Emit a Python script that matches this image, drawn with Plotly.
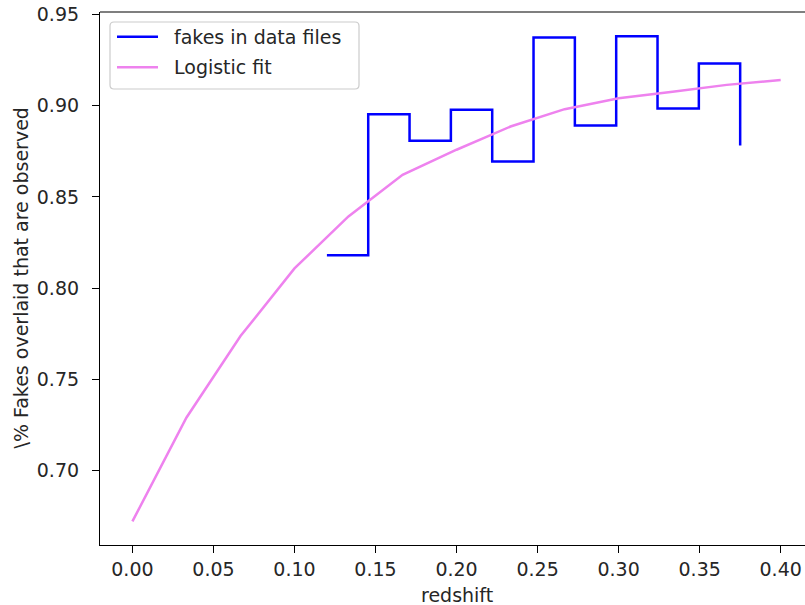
import plotly.graph_objects as go

# Binned fraction of injected fakes recovered in the data files (steps-post)
bin_z = [0.12, 0.1455, 0.171, 0.1965, 0.222, 0.2475, 0.273, 0.2985, 0.324, 0.3495, 0.375]
bin_frac = [0.818, 0.8952, 0.8807, 0.8977, 0.8694, 0.9373, 0.8891, 0.9379, 0.8984, 0.923, 0.8781]

# Logistic fit evaluated on a coarse redshift grid
fit_z = [0.0, 0.0333, 0.0667, 0.1, 0.1333, 0.1667, 0.2, 0.2333, 0.2667, 0.3, 0.3333, 0.3667, 0.4]
fit_frac = [0.6723, 0.7291, 0.7738, 0.8108, 0.8393, 0.8621, 0.8758, 0.8885, 0.8980, 0.9040, 0.9076, 0.9113, 0.9140]

x_ticks = [0.0, 0.05, 0.10, 0.15, 0.20, 0.25, 0.30, 0.35, 0.40]
y_ticks = [0.70, 0.75, 0.80, 0.85, 0.90, 0.95]

series_names = ["fakes in data files", "Logistic fit"]
series_colors = ["#0000ff", "#ee82ee"]

FONT = "DejaVu Sans"
FS = 19
TXT = "#262626"

W, H = 805, 605
ML, MR, MT, MB = 100, 0, 12, 60
PW, PH = W - ML - MR, H - MT - MB


def px(x):
    """page pixel x -> paper coordinate"""
    return (x - ML) / PW


def py(y):
    """page pixel y -> paper coordinate"""
    return (H - MB - y) / PH


fig = go.Figure()
fig.add_trace(go.Scatter(
    x=bin_z, y=bin_frac, mode="lines", line_shape="hv",
    line=dict(color=series_colors[0], width=2.5), name=series_names[0],
))
fig.add_trace(go.Scatter(
    x=fit_z, y=fit_frac, mode="lines",
    line=dict(color=series_colors[1], width=2.5), name=series_names[1],
))

axis_common = dict(
    showgrid=False, zeroline=False, showline=True, linecolor="black", linewidth=1.2,
    ticks="outside", ticklen=7, tickwidth=1.2, tickcolor="black",
    tickfont=dict(family=FONT, size=FS, color=TXT),
)

fig.update_layout(
    width=W, height=H,
    margin=dict(l=ML, r=MR, t=MT, b=MB),
    paper_bgcolor="white", plot_bgcolor="white",
    font=dict(family=FONT, size=FS, color=TXT),
    xaxis=dict(range=[-0.02, 0.415], tickvals=x_ticks, tickformat=".2f",
               ticklabelstandoff=0, **axis_common),
    yaxis=dict(range=[0.6594, 0.9512], tickvals=y_ticks, tickformat=".2f",
               ticklabelstandoff=9, **axis_common),
    showlegend=False,
)

# top spine across the visible width
fig.add_shape(type="line", xref="paper", yref="paper", x0=0, x1=1, y0=1, y1=1,
              line=dict(color="black", width=1.2))

# legend frame with slightly rounded corners
x0, x1, y0, y1, r = 110, 359, 22, 89, 4
path = (
    f"M {px(x0 + r)},{py(y0)} L {px(x1 - r)},{py(y0)} Q {px(x1)},{py(y0)} {px(x1)},{py(y0 + r)} "
    f"L {px(x1)},{py(y1 - r)} Q {px(x1)},{py(y1)} {px(x1 - r)},{py(y1)} "
    f"L {px(x0 + r)},{py(y1)} Q {px(x0)},{py(y1)} {px(x0)},{py(y1 - r)} "
    f"L {px(x0)},{py(y0 + r)} Q {px(x0)},{py(y0)} {px(x0 + r)},{py(y0)} Z"
)
fig.add_shape(type="path", xref="paper", yref="paper", path=path,
              fillcolor="rgba(255,255,255,0.8)", line=dict(color="#cccccc", width=1.2))

row_y = [36.7, 67.3]
for name, color, ry in zip(series_names, series_colors, row_y):
    fig.add_shape(type="line", xref="paper", yref="paper",
                  x0=px(117), x1=px(158), y0=py(ry), y1=py(ry),
                  line=dict(color=color, width=2.5))
    fig.add_annotation(text=name, xref="paper", yref="paper", x=px(172), y=py(ry),
                       xanchor="left", yanchor="middle", showarrow=False,
                       font=dict(family=FONT, size=FS, color=TXT))

# axis titles
fig.add_annotation(text="redshift", xref="x", yref="paper", x=0.2, y=0,
                   yshift=-50, showarrow=False, xanchor="center", yanchor="middle",
                   font=dict(family=FONT, size=FS, color=TXT))
fig.add_annotation(text="\\% Fakes overlaid that are observed", xref="paper", yref="paper",
                   x=0, xshift=-80, y=0.5, textangle=-90, showarrow=False,
                   xanchor="center", yanchor="middle",
                   font=dict(family=FONT, size=FS, color=TXT))

fig.write_html("out.html")
